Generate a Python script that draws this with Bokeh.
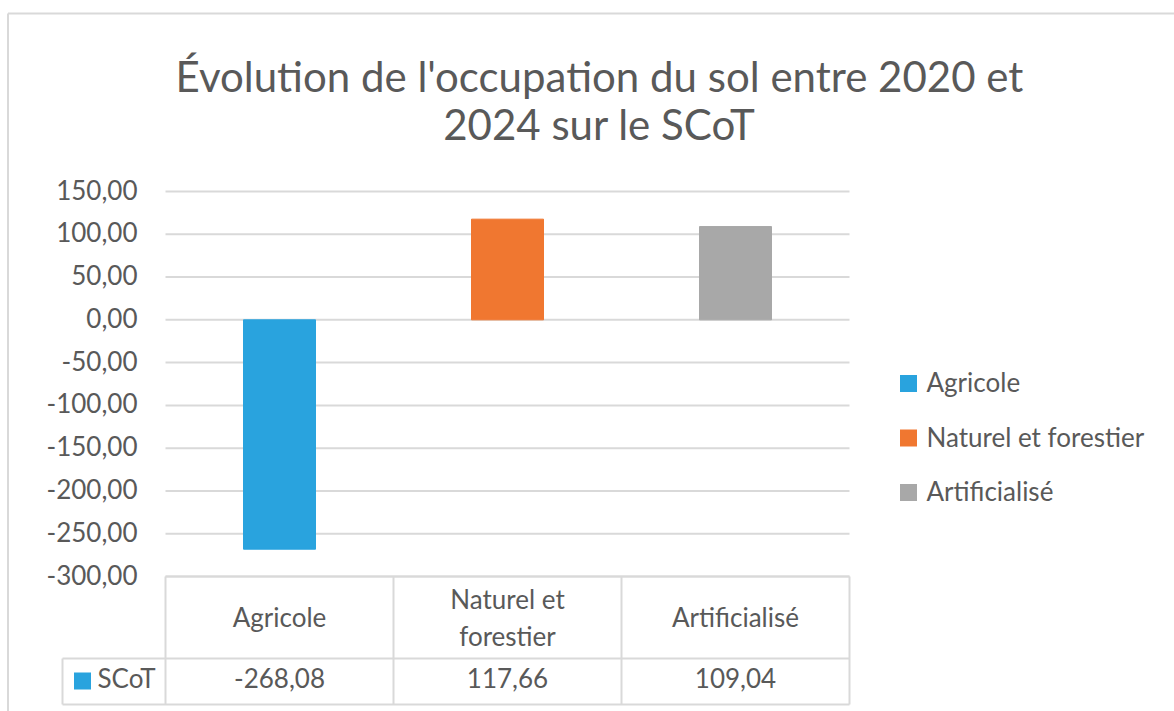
from bokeh.plotting import figure
from bokeh.models import Range1d
from bokeh.core.properties import value
from bokeh.embed import file_html
from bokeh.resources import INLINE

# ---- data ----
title_lines = ["Évolution de l'occupation du sol entre 2020 et", "2024 sur le SCoT"]
categories = ["Agricole", "Naturel et forestier", "Artificialisé"]
header_lines = [["Agricole"], ["Naturel et", "forestier"], ["Artificialisé"]]
series_name = "SCoT"
values = [-268.08, 117.66, 109.04]
colors = ["#29A3DE", "#F07730", "#A8A8A8"]
y_ticks = [-300, -250, -200, -150, -100, -50, 0, 50, 100, 150]

# ---- styling / layout (pixels) ----
FONT = value("Lato")
TXT = "#595959"
GRID = "#D9D9D9"
LBL_PX = 26
TITLE_PX = 42
LBL = value(f"{LBL_PX}px")
FIX = 0.4            # baseline correction (em) for alphabetic text
W, H = 1174, 711
PL, PR, PT, PB = 165, 849, 191, 576        # plot-area edges
n = len(categories)
ymin, ymax = y_ticks[0], y_ticks[-1]
ux = (PR - PL) / n                          # px per category
ky = (PB - PT) / (ymax - ymin)              # px per value unit
lfix = -FIX * LBL_PX


def px_x(px):
    return -0.5 + (px - PL) / ux


def px_y(py):
    return ymin - (py - PB) / ky


p = figure(width=W, height=H,
           x_range=Range1d(px_x(0), px_x(W)), y_range=Range1d(px_y(H), px_y(0)),
           output_backend="svg", toolbar_location=None, title=None,
           x_axis_location=None, y_axis_location=None, min_border=0)
p.outline_line_color = None
p.background_fill_color = "white"
p.border_fill_color = "white"
p.grid.visible = False

idx = list(range(n))

# chart border (top + left edges visible)
p.segment(x0=[px_x(7.5), px_x(7.5)], y0=[px_y(13), px_y(13)],
          x1=[px_x(W + 5), px_x(7.5)], y1=[px_y(13), px_y(H + 5)],
          line_color=GRID, line_width=2)

# gridlines
p.segment(x0=[-0.5] * len(y_ticks), x1=[n - 0.5] * len(y_ticks), y0=y_ticks, y1=y_ticks,
          line_color=GRID, line_width=2)

# tick labels
p.text(x=[-0.5] * len(y_ticks), y=y_ticks,
       text=[f"{t:.2f}".replace(".", ",") for t in y_ticks],
       x_offset=-28, y_offset=-2, text_align="right", text_baseline="middle",
       text_font=FONT, text_font_size=LBL, text_color=TXT)

# bars
p.vbar(x=idx, top=values, bottom=0, width=72 / ux, color=colors)

# ---- title ----
p.text(x=[px_x(599)] * 2, y=[px_y(92), px_y(140)], text=title_lines,
       y_offset=-FIX * TITLE_PX, text_align="center", text_baseline="alphabetic",
       text_font=FONT, text_font_size=value(f"{TITLE_PX}px"), text_color=TXT)

# ---- data table ----
y_sep = px_y(658)
y_bot = px_y(704)
x_cell = px_x(62)
hx0 = [-0.5, x_cell, x_cell]
hx1 = [n - 0.5] * 3
hy = [ymin, y_sep, y_bot]
p.segment(x0=hx0, x1=hx1, y0=hy, y1=hy, line_color=GRID, line_width=2)
vx = [i - 0.5 for i in range(n + 1)] + [x_cell]
vy0 = [ymin] * (n + 1) + [y_sep]
p.segment(x0=vx, x1=vx, y0=vy0, y1=[y_bot] * (n + 2), line_color=GRID, line_width=2)

tx, ty, tt, toff = [], [], [], []
for i, lines in enumerate(header_lines):
    k = len(lines)
    for j, t in enumerate(lines):
        tx.append(i)
        ty.append(ymin)
        tt.append(t)
        toff.append(51 - (k - 1) / 2 * 37 + j * 37 + lfix)
p.text(x=tx, y=ty, text=tt, y_offset=toff, text_align="center", text_baseline="alphabetic",
       text_font=FONT, text_font_size=LBL, text_color=TXT)

p.text(x=idx, y=[ymin] * n, text=[f"{v:.2f}".replace(".", ",") for v in values],
       y_offset=112 + lfix, text_align="center", text_baseline="alphabetic",
       text_font=FONT, text_font_size=LBL, text_color=TXT)

# series key in table
p.scatter(x=[px_x(82)], y=[px_y(680.5)], marker="square", size=17,
          fill_color=colors[0], line_color=None)
p.text(x=[px_x(97)], y=[ymin], text=[series_name], y_offset=112 + lfix,
       text_baseline="alphabetic", text_font=FONT, text_font_size=LBL, text_color=TXT)

# ---- legend ----
leg_y = [383 + 54.5 * i for i in range(n)]
p.scatter(x=[px_x(908)] * n, y=[px_y(v) for v in leg_y], marker="square", size=17,
          fill_color=colors, line_color=None)
p.text(x=[px_x(926)] * n, y=[px_y(v + 9) for v in leg_y], text=categories,
       y_offset=lfix, text_baseline="alphabetic", text_font=FONT, text_font_size=LBL,
       text_color=TXT)

open("out.html", "w").write(file_html(p, INLINE))
